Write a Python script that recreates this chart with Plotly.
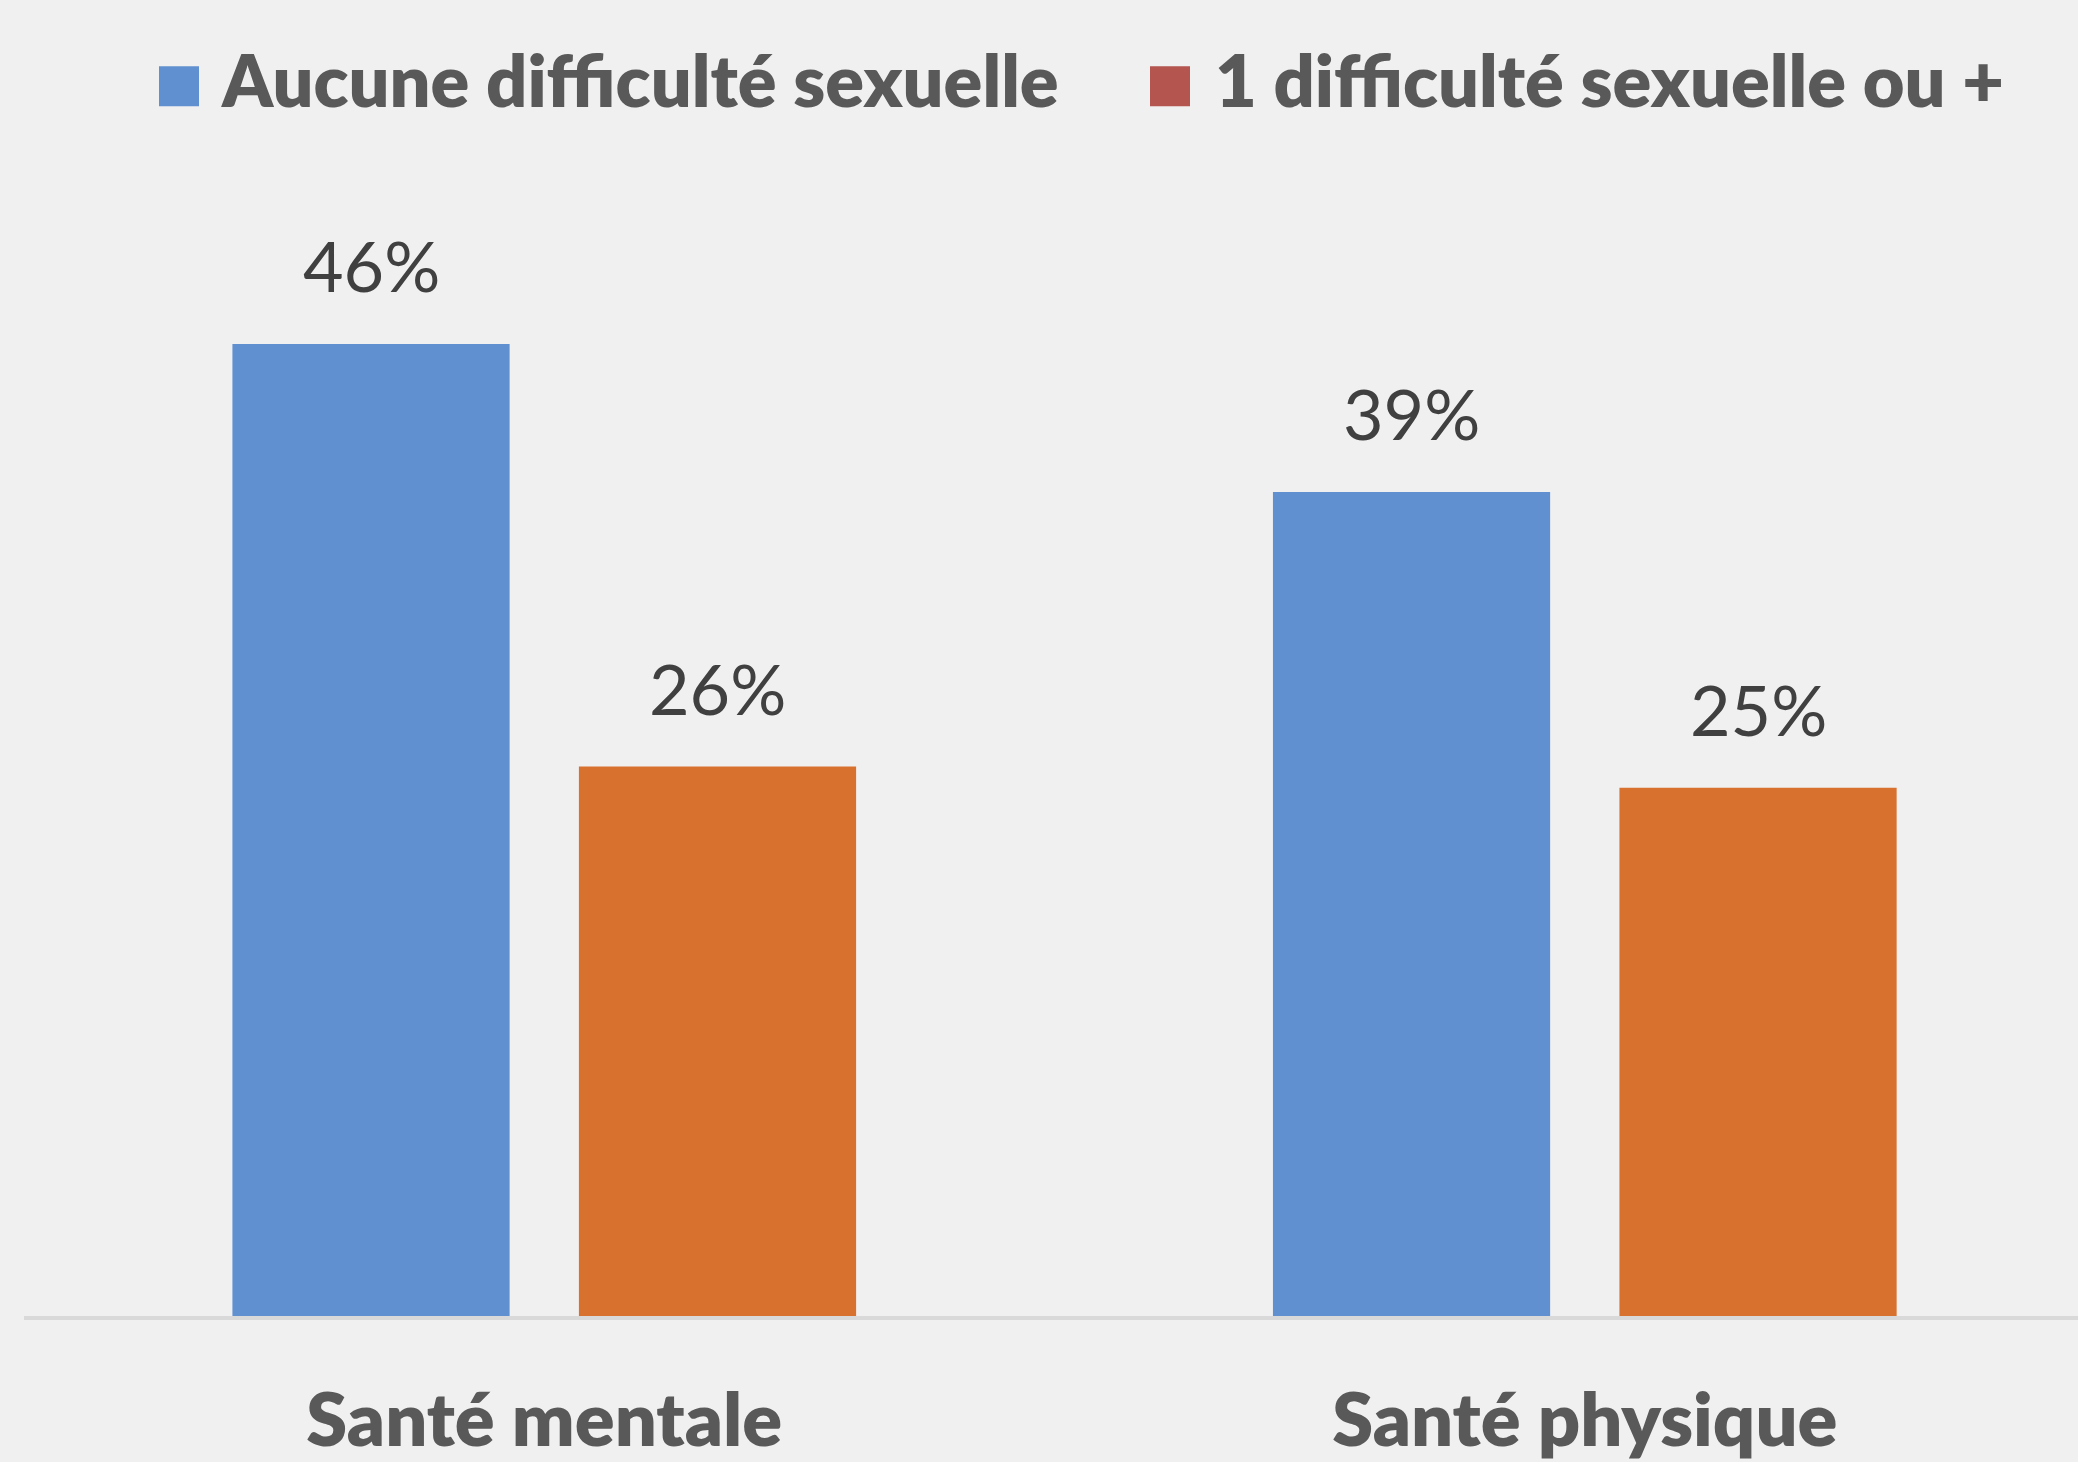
import plotly.graph_objects as go

# ---- data ----
categories = ["Santé mentale", "Santé physique"]
series_names = ["Aucune difficulté sexuelle", "1 difficulté sexuelle ou +"]
aucune = [46, 39]
une_ou_plus = [26, 25]
value_suffix = "%"

# ---- style ----
W, H = 2078, 1462
ML, MR, MT, MB = 24, 0, 157, 143
BG = "#F0F0F0"
BAR_COLORS = ["#6190D1", "#D8712E"]
LEGEND_COLORS = ["#6190D1", "#B5554F"]
TXT = "#595959"
LBL = "#404040"
FONT = "Lato"
BOLD = 800
BARGAP, BARGROUPGAP = 0.334, 0.2

plot_w = W - ML - MR
plot_h = H - MT - MB


def px_x(px):
    return (px - ML) / plot_w


def px_y(py):
    return (H - MB - py) / plot_h


fig = go.Figure()
series = [aucune, une_ou_plus]
for name, vals, col in zip(series_names, series, BAR_COLORS):
    fig.add_trace(go.Bar(x=categories, y=vals, name=name, marker_color=col,
                         marker_line_width=0, showlegend=False))

# data labels
slot = (1 - BARGAP) / 2
for si, vals in enumerate(series):
    off = (si - 0.5) * slot
    for ci, v in enumerate(vals):
        fig.add_annotation(x=ci + off, y=v, xref="x", yref="y", text=f"{v}{value_suffix}",
                           showarrow=False, yanchor="bottom", xanchor="center", yshift=35,
                           font=dict(family=FONT, size=70, color=LBL))

# legend (squares + text)
legend_sq = [(159, 199), (1150, 1190)]
legend_tx = [219, 1213]
for (x0, x1), tx, name, col in zip(legend_sq, legend_tx, series_names, LEGEND_COLORS):
    fig.add_shape(type="rect", xref="paper", yref="paper", x0=px_x(x0), x1=px_x(x1),
                  y0=px_y(106), y1=px_y(66), fillcolor=col, line_width=0)
    fig.add_annotation(x=px_x(tx), y=px_y(79), xref="paper", yref="paper", text=name,
                       showarrow=False, xanchor="left", yanchor="middle",
                       font=dict(family=FONT, size=72, color=TXT, weight=BOLD))

fig.update_layout(
    width=W, height=H,
    margin=dict(l=ML, r=MR, t=MT, b=MB),
    paper_bgcolor=BG, plot_bgcolor=BG,
    barmode="group", bargap=BARGAP, bargroupgap=BARGROUPGAP,
    showlegend=False,
    xaxis=dict(type="category", range=[-0.5, 1.474], showline=True, linecolor="#D9D9D9",
               linewidth=4, ticks="", showgrid=False, zeroline=False,
               tickfont=dict(family=FONT, size=74, color=TXT, weight=BOLD),
               ticklabelstandoff=37),
    yaxis=dict(range=[0, 54.85], visible=False, showgrid=False, zeroline=False),
)

fig.write_html("out.html", config={"displayModeBar": False},
               post_script="document.body.style.margin='0';document.body.style.background='#F0F0F0';")
